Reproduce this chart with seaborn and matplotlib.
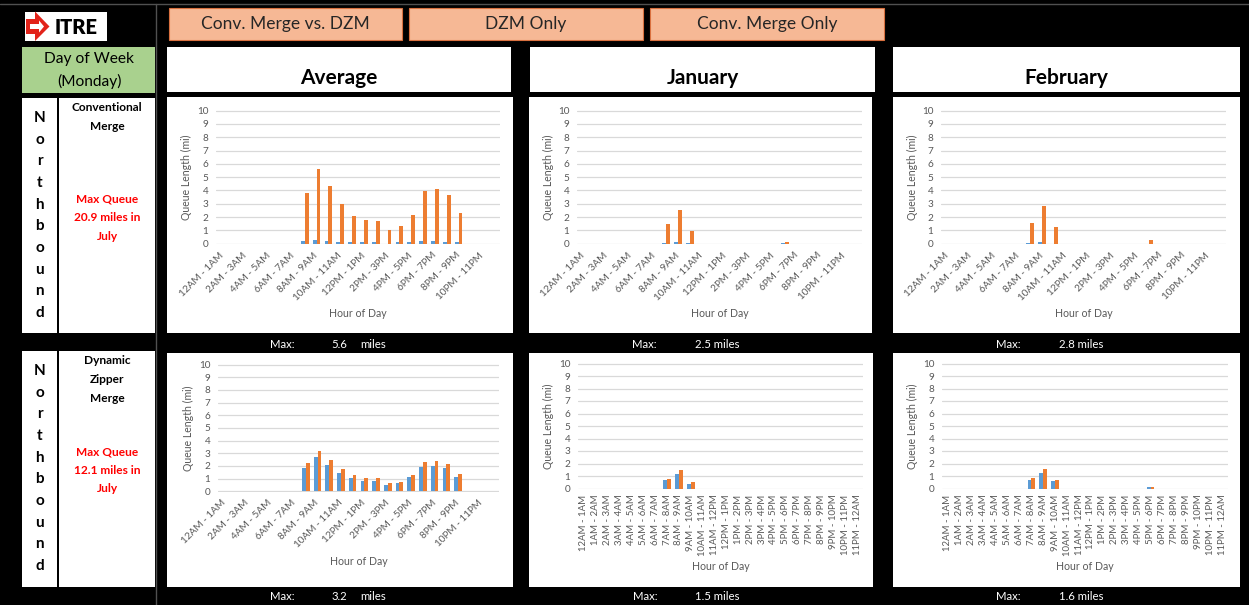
import matplotlib
matplotlib.use("Agg")
import matplotlib.pyplot as plt
from matplotlib.patches import Rectangle, Polygon
from matplotlib.lines import Line2D
import pandas as pd
import seaborn as sns

# ---------------------------------------------------------------- data
hours = ["12AM - 1AM", "1AM - 2AM", "2AM - 3AM", "3AM - 4AM", "4AM - 5AM",
         "5AM - 6AM", "6AM - 7AM", "7AM - 8AM", "8AM - 9AM", "9AM - 10AM",
         "10AM - 11AM", "11AM - 12PM", "12PM - 1PM", "1PM - 2PM", "2PM - 3PM",
         "3PM - 4PM", "4PM - 5PM", "5PM - 6PM", "6PM - 7PM", "7PM - 8PM",
         "8PM - 9PM", "9PM - 10PM", "10PM - 11PM", "11PM - 12AM"]
series_names = ["Series1", "Series2"]

# Conventional merge, Monday queue length (mi)
cm_avg_s1 = [0, 0, 0, 0, 0, 0, 0, 0.20, 0.27, 0.20, 0.15, 0.10, 0.10, 0.10,
             0, 0.10, 0.10, 0.20, 0.20, 0.15, 0.10, 0, 0, 0]
cm_avg_s2 = [0, 0, 0, 0, 0, 0, 0, 3.80, 5.60, 4.32, 2.98, 2.12, 1.82, 1.70,
             1.03, 1.30, 2.19, 3.93, 4.13, 3.68, 2.34, 0, 0, 0]
cm_jan_s1 = [0, 0, 0, 0, 0, 0, 0, 0.08, 0.12, 0.08, 0, 0, 0, 0,
             0, 0, 0, 0.08, 0, 0, 0, 0, 0, 0]
cm_jan_s2 = [0, 0, 0, 0, 0, 0, 0, 1.45, 2.50, 0.93, 0, 0, 0, 0,
             0, 0, 0, 0.12, 0, 0, 0, 0, 0, 0]
cm_feb_s1 = [0, 0, 0, 0, 0, 0, 0, 0.08, 0.15, 0, 0, 0, 0, 0,
             0, 0, 0, 0, 0, 0, 0, 0, 0, 0]
cm_feb_s2 = [0, 0, 0, 0, 0, 0, 0, 1.57, 2.80, 1.25, 0, 0, 0, 0,
             0, 0, 0, 0.27, 0, 0, 0, 0, 0, 0]

# Dynamic zipper merge, Monday queue length (mi)
dzm_avg_s1 = [0, 0, 0, 0, 0, 0, 0, 1.85, 2.67, 2.04, 1.46, 1.04, 0.84, 0.84,
              0.50, 0.63, 1.10, 1.93, 1.98, 1.80, 1.10, 0, 0, 0]
dzm_avg_s2 = [0, 0, 0, 0, 0, 0, 0, 2.25, 3.20, 2.50, 1.72, 1.25, 1.04, 1.04,
              0.63, 0.76, 1.30, 2.33, 2.38, 2.17, 1.38, 0, 0, 0]
dzm_jan_s1 = [0, 0, 0, 0, 0, 0, 0, 0.66, 1.20, 0.35, 0, 0, 0, 0,
              0, 0, 0, 0, 0, 0, 0, 0, 0, 0]
dzm_jan_s2 = [0, 0, 0, 0, 0, 0, 0, 0.77, 1.50, 0.51, 0, 0, 0, 0,
              0, 0, 0, 0, 0, 0, 0, 0, 0, 0]
dzm_feb_s1 = [0, 0, 0, 0, 0, 0, 0, 0.71, 1.27, 0.58, 0, 0, 0, 0,
              0, 0, 0, 0.10, 0, 0, 0, 0, 0, 0]
dzm_feb_s2 = [0, 0, 0, 0, 0, 0, 0, 0.82, 1.60, 0.71, 0, 0, 0, 0,
              0, 0, 0, 0.10, 0, 0, 0, 0, 0, 0]

buttons = ["Conv. Merge vs. DZM", "DZM Only", "Conv. Merge Only"]
period_titles = ["Average", "January", "February"]

# ---------------------------------------------------------------- style
BLUE = "#5B9BD5"
ORANGE = "#ED7D31"
GRID = "#D9D9D9"
TICK = "#595959"
FONT = ["Lato", "DejaVu Sans"]

sns.set_theme(style="white")
plt.rcParams["font.family"] = FONT

W, H = 1249, 605
fig = plt.figure(figsize=(W / 100, H / 100), dpi=100, facecolor="black")


def fbox(x0, y0, x1, y1):
    return [x0 / W, 1 - y1 / H, (x1 - x0) / W, (y1 - y0) / H]


def rect(x0, y0, x1, y1, fc, ec=None, lw=0.0):
    fig.patches.append(Rectangle((x0 / W, 1 - y1 / H), (x1 - x0) / W, (y1 - y0) / H,
                                 transform=fig.transFigure, facecolor=fc,
                                 edgecolor=ec if ec else fc, linewidth=lw, zorder=-5))


def label(x, y, s, size, color="black", weight="normal", ha="center"):
    fig.text(x / W, 1 - y / H, s, ha=ha, va="center", fontsize=size,
             color=color, fontweight=weight)


# ---------------------------------------------------------------- frame
fig.add_artist(Line2D([0, 1], [1 - 4 / H, 1 - 4 / H], color="#505050", lw=1,
                      transform=fig.transFigure))
fig.add_artist(Line2D([156 / W, 156 / W], [0, 1 - 4 / H], color="#505050", lw=1,
                      transform=fig.transFigure))

# logo
rect(25, 12, 107, 41, "white")
outer = [(26, 19), (35, 19), (35, 11.5), (49.5, 26.5), (35, 41), (35, 34), (26, 34)]
inner = [(30, 24), (39, 24), (39, 20.5), (44, 26.5), (39, 32.5), (39, 29), (30, 29)]
for pts, col in ((outer, "#E2231A"), (inner, "white")):
    fig.patches.append(Polygon([(px / W, 1 - py / H) for px, py in pts], closed=True,
                               transform=fig.transFigure, facecolor=col,
                               edgecolor="none", zorder=2))
label(76.5, 27, "ITRE", 14.5, weight="heavy")

# selector buttons
for (x0, x1), txt in zip([(169, 402), (409, 643), (650, 884)], buttons):
    rect(x0, 8, x1, 40, "#F6B895", ec="#D9703F", lw=0.8)
    label((x0 + x1) / 2, 24.5, txt, 12.5, color="#262626")

# day of week
rect(22, 47, 155, 93, "#A9D18E")
label(89, 58.5, "Day of Week", 11.2)
label(89, 81, "(Monday)", 11.2)

# period titles
title_boxes = [(167, 511), (530, 875), (893, 1240)]
for (x0, x1), txt in zip(title_boxes, period_titles):
    rect(x0, 47, x1, 92, "white")
    label((x0 + x1) / 2, 78, txt, 15, weight="bold")

# row headers
row_specs = [
    (98, 333, ["Conventional", "Merge"], ["Max Queue", "20.9 miles in", "July"], 118),
    (351, 587, ["Dynamic", "Zipper", "Merge"], ["Max Queue", "12.1 miles in", "July"], 371),
]
for y0, y1, name_lines, max_lines, ny in row_specs:
    rect(22, y0, 57, y1, "white")
    rect(59, y0, 155, y1, "white")
    for i, ch in enumerate("Northbound"):
        label(39.5, ny + i * 21.65, ch, 11, weight="bold")
    for i, t in enumerate(name_lines):
        label(107, y0 + 10 + i * 18.5, t, 8.6, weight="bold")
    for i, t in enumerate(max_lines):
        label(107, y0 + 101 + i * 18.5, t, 8.6, color="#FF0000", weight="bold")


# ---------------------------------------------------------------- charts
def chart(panel, axbox, s1, s2, all_labels, max_pos, max_y, split_max):
    rect(*panel, "white")
    ax = fig.add_axes(fbox(*axbox))
    df = pd.DataFrame({"hour": hours * 2,
                       "queue": list(s1) + list(s2),
                       "series": [series_names[0]] * 24 + [series_names[1]] * 24})
    sns.barplot(data=df, x="hour", y="queue", hue="series", order=hours,
                hue_order=series_names, palette=[BLUE, ORANGE], width=0.64,
                saturation=1, legend=False, errorbar=None, ax=ax, zorder=3,
                linewidth=0)
    ax.set_facecolor("white")
    ax.set_xlim(-0.5, 23.5)
    ax.set_ylim(-0.04, 10.04)
    ax.set_yticks(range(11))
    ax.set_yticklabels([str(v) for v in range(11)], fontsize=7.2, color=TICK)
    ax.yaxis.grid(True, color=GRID, lw=0.9)
    ax.xaxis.grid(False)
    ax.set_axisbelow(True)
    for sp in ax.spines.values():
        sp.set_visible(False)
    ax.tick_params(axis="both", length=0)
    ax.tick_params(axis="y", pad=5.5)
    if all_labels:
        ax.set_xticks(range(24))
        ax.set_xticklabels(hours, rotation=90, ha="center", va="top",
                           fontsize=6.9, color=TICK)
        ax.tick_params(axis="x", pad=4)
        xl_y = 77
    else:
        ax.set_xticks(range(0, 24, 2))
        ax.set_xticklabels(hours[::2], rotation=45, ha="right", va="center",
                           rotation_mode="anchor", fontsize=7.2, color=TICK)
        ax.tick_params(axis="x", pad=7)
        xl_y = 69
    x0, y0, x1, y1 = axbox
    ax.set_xlabel("Hour of Day", fontsize=7.6, color=TICK)
    ax.xaxis.set_label_coords(0.5, -(xl_y - 5) / (y1 - y0))
    ax.set_ylabel("Queue Length (mi)", fontsize=7.6, color=TICK)
    ax.yaxis.set_label_coords(-23.5 / (x1 - x0), 0.5)

    peak = max(max(s1), max(s2))
    if split_max:
        label(max_pos[0], max_y, "Max:", 8.2, color="white")
        label(max_pos[1], max_y, f"{peak:.1f}", 8.2, color="white")
        label(max_pos[2], max_y, "miles", 8.2, color="white")
    else:
        label(max_pos[0], max_y, "Max:", 8.2, color="white")
        label(max_pos[1], max_y, f"{peak:.1f} miles", 8.2, color="white")


chart((167, 97, 513, 333), (216, 110, 500, 244.3), cm_avg_s1, cm_avg_s2,
      False, (282, 339, 373), 344, True)
chart((529, 97, 872, 333), (577, 110, 862, 244.3), cm_jan_s1, cm_jan_s2,
      False, (644, 717), 344, False)
chart((893, 97, 1240, 333), (941, 110, 1226, 244.3), cm_feb_s1, cm_feb_s2,
      False, (1008, 1081), 344, False)
chart((167, 353, 513, 587), (218, 364, 499, 491.7), dzm_avg_s1, dzm_avg_s2,
      False, (282, 339, 373), 597, True)
chart((529, 353, 873, 587), (578, 363, 863, 489), dzm_jan_s1, dzm_jan_s2,
      True, (645, 717), 597, False)
chart((893, 353, 1240, 587), (942, 363, 1228, 489), dzm_feb_s1, dzm_feb_s2,
      True, (1008, 1081), 597, False)

fig.savefig("out.png", dpi=100, facecolor="black")
